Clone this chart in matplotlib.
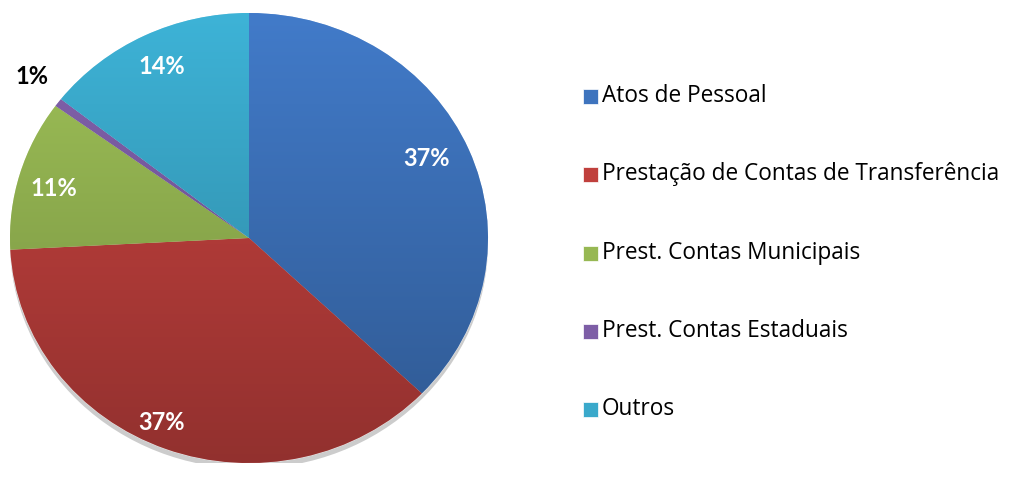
import matplotlib
matplotlib.use("Agg")
import matplotlib.pyplot as plt
import numpy as np
from matplotlib.patches import Rectangle, Ellipse

categories = ["Atos de Pessoal", "Prestação de Contas de Transferência",
              "Prest. Contas Municipais", "Prest. Contas Estaduais", "Outros"]
values = [37.1, 37.0, 10.8, 0.6, 14.4]
colors = ["#3E74BE", "#C0403D", "#97B853", "#7D5EA6", "#3AA9CB"]

fig = plt.figure(figsize=(10.13, 4.79), dpi=100)
W, H = 1013, 479
cx, cy = 249, 238
rx, ry = 239, 225
ax = fig.add_axes([(cx - rx) / W, 1 - (cy + ry) / H, 2 * rx / W, 2 * ry / H])

# subtle shadow beneath the pie
sh = Ellipse((0.0, -0.025), 2.0, 2.0, facecolor="#000000", alpha=0.2, zorder=0)
ax.add_patch(sh)

wedges, texts, autotexts = ax.pie(
    values, colors=colors, startangle=90, counterclock=False, radius=1,
    autopct=lambda p: "%.0f%%" % p, pctdistance=0.75,
    wedgeprops=dict(linewidth=0.8, edgecolor="#ffffff80"),
    textprops=dict(fontfamily="Lato", fontweight="bold", fontsize=17, color="white"))
ax.set_aspect("auto")
ax.set_xlim(-1, 1)
ax.set_ylim(-1, 1)
ax.axis("off")

# gradient shading clipped to each wedge
for w, c in zip(wedges, colors):
    rgb = np.array(matplotlib.colors.to_rgb(c))
    shade = np.linspace(1.06, 0.76, 256)[:, None]
    img = np.clip(rgb[None, :] * shade, 0, 1)[:, None, :]
    im = ax.imshow(img, extent=(-1, 1, -1, 1), aspect="auto", zorder=1.5,
                   interpolation="bilinear")
    im.set_clip_path(w)

# label positions (pixel targets converted to data)
label_px = [(427, 158), (162, 422), (54, 188), (32, 77), (162, 66)]
for t, (px, py) in zip(autotexts, label_px):
    x = (px - cx) / rx
    y = -(py - cy) / ry
    t.set_position((x, y))
    t.set_ha("center")
    t.set_va("center")
    t.set_zorder(5)
    t.set_clip_on(False)
autotexts[3].set_color("black")

# legend
leg_rows = [96, 174, 253, 331, 409]
for c, lab, yp in zip(colors, categories, leg_rows):
    fig.patches.append(Rectangle(((583) / W, 1 - (yp + 8) / H), 15 / W, 15 / H,
                                 transform=fig.transFigure, facecolor=c,
                                 edgecolor="#ffffff", linewidth=0.5))
    fig.text(602 / W, 1 - yp / H, lab, fontfamily="Open Sans", fontsize=16.3,
             va="center", ha="left", color="black")

fig.savefig("out.png", dpi=100)
